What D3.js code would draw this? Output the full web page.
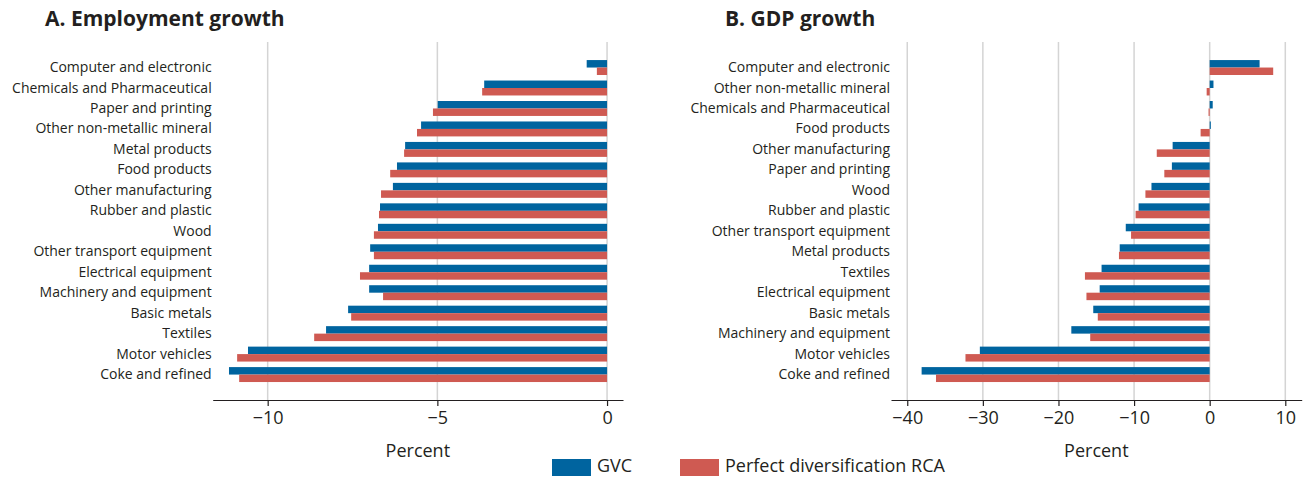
<!DOCTYPE html>
<html>
<head>
<meta charset="utf-8">
<script src="https://d3js.org/d3.v7.min.js"></script>
<style>
  body { margin: 0; background: #fff; }
  text { font-family: "Open Sans", "Noto Sans", sans-serif; fill: #231f20; }
</style>
</head>
<body>
<svg id="chart" width="1307" height="477"></svg>
<script>
// panel A: employment growth
var empCats = ["Computer and electronic", "Chemicals and Pharmaceutical", "Paper and printing",
  "Other non-metallic mineral", "Metal products", "Food products", "Other manufacturing",
  "Rubber and plastic", "Wood", "Other transport equipment", "Electrical equipment",
  "Machinery and equipment", "Basic metals", "Textiles", "Motor vehicles", "Coke and refined"];
var empGVC = [-0.60, -3.62, -4.99, -5.48, -5.95, -6.19, -6.31, -6.69, -6.75, -6.98, -7.01, -7.01, -7.63, -8.28, -10.58, -11.14];
var empRCA = [-0.30, -3.68, -5.13, -5.60, -5.98, -6.39, -6.66, -6.72, -6.87, -6.87, -7.28, -6.60, -7.54, -8.63, -10.90, -10.84];
var empTicks = [-10, -5, 0];

// panel B: GDP growth
var gdpCats = ["Computer and electronic", "Other non-metallic mineral", "Chemicals and Pharmaceutical",
  "Food products", "Other manufacturing", "Paper and printing", "Wood", "Rubber and plastic",
  "Other transport equipment", "Metal products", "Textiles", "Electrical equipment",
  "Basic metals", "Machinery and equipment", "Motor vehicles", "Coke and refined"];
var gdpGVC = [6.6, 0.5, 0.4, 0.15, -4.9, -5.0, -7.7, -9.4, -11.1, -11.9, -14.3, -14.55, -15.4, -18.3, -30.4, -38.1];
var gdpRCA = [8.4, -0.4, -0.15, -1.2, -7.0, -6.0, -8.5, -9.8, -10.4, -12.0, -16.5, -16.3, -14.8, -15.8, -32.3, -36.2];
var gdpTicks = [-40, -30, -20, -10, 0, 10];

var seriesNames = ["GVC", "Perfect diversification RCA"];
var colors = ["#00649f", "#cf5a52"];

var svg = d3.select("#chart");
var axisY = 400;

function panel(opts) {
  var g = svg.append("g");
  var x = d3.scaleLinear().domain(opts.domain).range(opts.range);
  var y = d3.scaleBand().domain(opts.cats).range([57.3, 384.8]).paddingInner(0.27).paddingOuter(0.135);
  var half = y.bandwidth() / 2;

  // title
  g.append("text")
    .attr("x", opts.titleX).attr("y", 26)
    .style("font-size", "21px").style("font-weight", "bold")
    .text(opts.title);

  // gridlines
  g.selectAll(".grid")
    .data(opts.ticks)
    .enter().append("line")
    .attr("x1", function(d) { return x(d); })
    .attr("x2", function(d) { return x(d); })
    .attr("y1", 42).attr("y2", axisY)
    .attr("stroke", "#d4d4d4").attr("stroke-width", 1.5);

  var rows = opts.cats.map(function(c, i) { return {cat: c, v: [opts.a[i], opts.b[i]]}; });

  [0, 1].forEach(function(s) {
    g.selectAll(".bar" + s)
      .data(rows)
      .enter().append("rect")
      .attr("x", function(d) { return x(Math.min(0, d.v[s])); })
      .attr("width", function(d) { return Math.abs(x(d.v[s]) - x(0)); })
      .attr("y", function(d) { return y(d.cat) + s * half; })
      .attr("height", half)
      .attr("fill", colors[s]);
  });

  // category labels
  g.selectAll(".lab")
    .data(opts.cats)
    .enter().append("text")
    .attr("x", opts.range[0] - 1)
    .attr("y", function(d) { return y(d) + half - 1; })
    .attr("text-anchor", "end")
    .attr("dominant-baseline", "central")
    .style("font-size", "14px")
    .text(function(d) { return d; });

  // x axis
  var ax = g.append("g")
    .attr("transform", "translate(0," + axisY + ")")
    .call(d3.axisBottom(x).tickValues(opts.ticks).tickSize(6).tickSizeOuter(0).tickPadding(5));
  ax.select(".domain").attr("stroke", "#231f20").attr("stroke-width", 1.2);
  ax.selectAll(".tick line").attr("stroke", "#231f20").attr("stroke-width", 1.2);
  ax.selectAll(".tick text")
    .style("font-size", "18px")
    .style("font-family", "'Open Sans', 'Noto Sans', sans-serif")
    .attr("fill", "#231f20");

  g.append("text")
    .attr("x", (opts.range[0] + opts.range[1]) / 2)
    .attr("y", 457)
    .attr("text-anchor", "middle")
    .style("font-size", "18px")
    .text("Percent");
}

panel({title: "A. Employment growth", titleX: 45, cats: empCats, a: empGVC, b: empRCA,
  ticks: empTicks, domain: [-11.62, 0.47], range: [212.7, 623]});
panel({title: "B. GDP growth", titleX: 725, cats: gdpCats, a: gdpGVC, b: gdpRCA,
  ticks: gdpTicks, domain: [-42.15, 12.17], range: [891, 1301.7]});

// legend
var leg = svg.append("g");
var legX = [552, 680];
seriesNames.forEach(function(n, i) {
  leg.append("rect").attr("x", legX[i]).attr("y", 459).attr("width", 39).attr("height", 17).attr("fill", colors[i]);
  leg.append("text").attr("x", legX[i] + 45).attr("y", 472).style("font-size", "18px").text(n);
});
</script>
</body>
</html>
